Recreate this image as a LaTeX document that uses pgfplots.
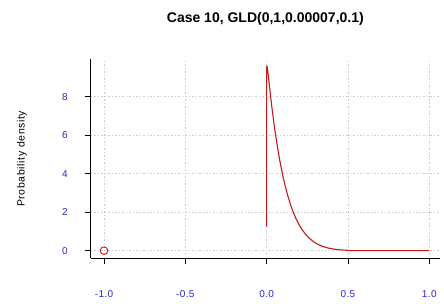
\documentclass[border=0pt]{standalone}
\usepackage{pgfplots}
\pgfplotsset{compat=1.18}
\usepackage{fontspec}
\setmainfont{Liberation Sans}
\newfontfamily\tickfont[LetterSpace=4]{Liberation Sans}
\newfontfamily\labfont[LetterSpace=6]{Liberation Sans}
\definecolor{tickblue}{RGB}{40,40,205}
\definecolor{curvered}{RGB}{200,25,25}
\definecolor{gridgray}{RGB}{205,205,205}
\begin{document}
\begin{tikzpicture}
\begin{axis}[
  scale only axis,
  width=349.3pt, height=199pt,
  xmin=-1.082, xmax=1.066,
  ymin=-0.395, ymax=9.94,
  axis x line*=bottom, axis y line*=left,
  axis line style={black, line width=0.8pt, -},
  tick align=outside,
  major tick length=6pt,
  tick style={black, line width=0.8pt},
  xtick={-1,-0.5,0,0.5,1},
  xticklabels={-1.0,-0.5,0.0,0.5,1.0},
  ytick={0,2,4,6,8},
  /pgf/number format/assume math mode=true,
  ticklabel style={font=\fontsize{10}{11}\tickfont, text=tickblue},
  xticklabel style={anchor=center, yshift=-29.4pt},
  yticklabel style={anchor=center, xshift=-19.7pt},
  grid=major,
  major grid style={gridgray, line width=0.8pt, dash pattern=on 1.5pt off 2pt},
  title={Case 10, GLD(0,1,0.00007,0.1)},
  title style={font=\fontsize{14}{16}\selectfont\bfseries, at={(axis description cs:0.5,1)}, anchor=center, yshift=34.5pt},
  ylabel={Probability density},
  ylabel style={font=\fontsize{10.5}{12}\labfont, at={(axis description cs:-0.1967,0.5)}, anchor=center},
  clip=false,
]
\addplot[curvered, line width=1.1pt, line join=round] coordinates {
(0.000,1.25) (0.000,9.57) (0.003,9.57) (0.01,9.135) (0.02,8.337) (0.03,7.602)
(0.04,6.925) (0.05,6.302) (0.06,5.730) (0.07,5.204) (0.08,4.722) (0.09,4.279)
(0.10,3.874) (0.11,3.504) (0.12,3.165) (0.13,2.855) (0.14,2.573) (0.15,2.316)
(0.16,2.082) (0.17,1.869) (0.18,1.676) (0.19,1.501) (0.20,1.342) (0.22,1.069)
(0.24,0.846) (0.26,0.665) (0.28,0.520) (0.30,0.404) (0.32,0.311) (0.34,0.238)
(0.36,0.180) (0.38,0.135) (0.40,0.101) (0.42,0.074) (0.44,0.054) (0.46,0.039)
(0.48,0.028) (0.50,0.0195) (0.50,0.003) (0.60,0.0026) (0.70,0.0002) (0.80,0) (1.00,0)
};
\addplot[only marks, mark=o, mark size=3.8pt, curvered, mark options={line width=0.9pt}] coordinates {(-1,0)};
\end{axis}
\pgfresetboundingbox
\path (-90.7pt,-45.7pt) rectangle (353.3pt,258.3pt);
\end{tikzpicture}
\end{document}
